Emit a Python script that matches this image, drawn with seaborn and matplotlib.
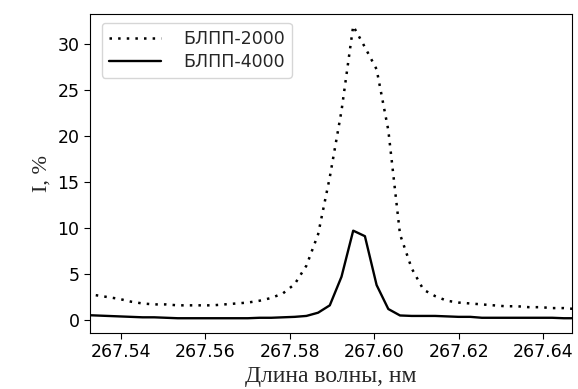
import pandas as pd
import seaborn as sns
import matplotlib
matplotlib.use("Agg")
import matplotlib.pyplot as plt

# длины волн, нм (шаг ~0.00277)
wl = [267.53129, 267.53406, 267.53683, 267.53960, 267.54237, 267.54514,
      267.54791, 267.55068, 267.55345, 267.55622, 267.55899, 267.56176,
      267.56453, 267.56730, 267.57007, 267.57284, 267.57561, 267.57838,
      267.58115, 267.58392, 267.58669, 267.58946, 267.59223, 267.59500,
      267.59777, 267.60054, 267.60331, 267.60608, 267.60885, 267.61162,
      267.61439, 267.61716, 267.61993, 267.62270, 267.62547, 267.62824,
      267.63101, 267.63378, 267.63655, 267.63932, 267.64209, 267.64486,
      267.64763]

# БЛПП-2000 (first wavelength not measured)
blpp2000 = [2.7, 2.5, 2.3, 2.0, 1.8, 1.7, 1.7, 1.6, 1.6, 1.6, 1.6, 1.7,
            1.8, 1.9, 2.1, 2.4, 2.9, 3.9, 5.9, 9.3, 15.5, 22.7, 31.9, 29.6,
            27.2, 20.6, 9.3, 5.6, 3.3, 2.6, 2.1, 1.9, 1.8, 1.7, 1.6, 1.5,
            1.5, 1.4, 1.4, 1.3, 1.3, 1.2]

# БЛПП-4000
blpp4000 = [0.55, 0.5, 0.45, 0.4, 0.35, 0.3, 0.3, 0.25, 0.2, 0.2, 0.2, 0.2,
            0.2, 0.2, 0.2, 0.25, 0.25, 0.3, 0.35, 0.45, 0.8, 1.6, 4.7, 9.7,
            9.1, 3.8, 1.2, 0.5, 0.45, 0.45, 0.45, 0.4, 0.35, 0.35, 0.25, 0.25,
            0.25, 0.25, 0.25, 0.25, 0.25, 0.2, 0.2]

sns.set_style("ticks")
plt.rcParams["font.family"] = ["DejaVu Sans"]

fig = plt.figure(figsize=(5.78, 3.89), dpi=100)
ax = fig.add_axes([0.1557, 0.144, 0.834, 0.82])

sns.lineplot(x=wl[1:], y=blpp2000, ax=ax, color="black",
             linewidth=1.8, dashes=False, label="БЛПП-2000")
sns.lineplot(x=wl, y=blpp4000, ax=ax, color="black", linestyle="-",
             linewidth=1.7, label="БЛПП-4000")
ax.lines[0].set_dashes((1, 2.45))

ax.set_xlim(267.5327, 267.6468)
ax.set_ylim(-1.4, 33.2)
ax.set_xticks([267.54, 267.56, 267.58, 267.60, 267.62, 267.64])
ax.set_xticklabels(["267.54", "267.56", "267.58", "267.60", "267.62", "267.64"])
ax.set_yticks([0, 5, 10, 15, 20, 25, 30])
ax.tick_params(labelsize=12.5, colors="black", length=4)
for s in ax.spines.values():
    s.set_visible(True)
    s.set_color("black")

ax.set_xlabel("Длина волны, нм", fontsize=17, family="Liberation Serif", labelpad=3)
ax.set_ylabel("I, %", fontsize=16, family="Liberation Serif")

leg = ax.legend(loc="upper left", fontsize=12.5, handlelength=3.0,
                handletextpad=1.3, borderpad=0.4, labelspacing=0.3,
                frameon=True, borderaxespad=0.5,
                bbox_to_anchor=(0.006, 1.0))
leg.get_lines()[0].set_dashes((1, 2.45))

fig.savefig("out.png", dpi=100)
